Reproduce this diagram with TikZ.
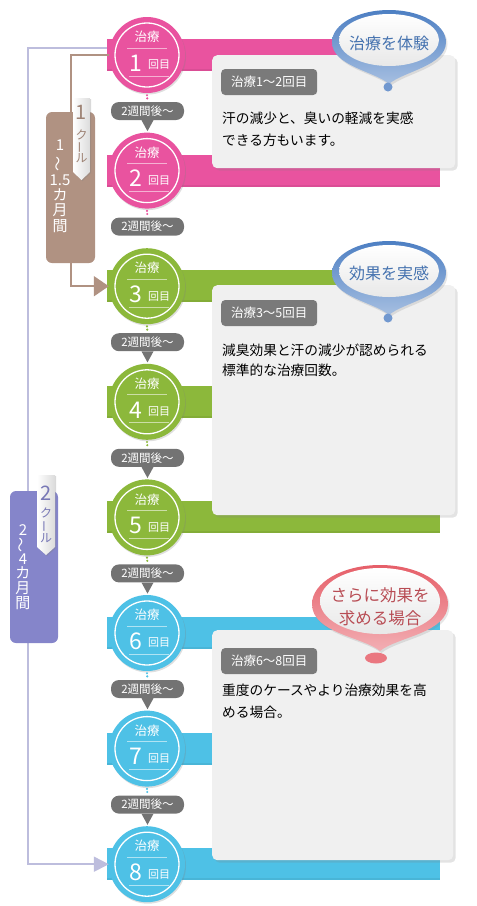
\documentclass[tikz,border=0pt]{standalone}
\usepackage{fontspec}
\setmainfont{Noto Sans CJK JP}
\usetikzlibrary{arrows.meta,shadows}

\definecolor{pinkc}{HTML}{E9539F}
\definecolor{greenc}{HTML}{8CB83B}
\definecolor{bluec}{HTML}{4EC1E6}
\definecolor{brownc}{HTML}{B09282}
\definecolor{purplec}{HTML}{8585CA}
\definecolor{lavc}{HTML}{BDBDDD}
\definecolor{pillc}{HTML}{737373}
\definecolor{cardc}{HTML}{F0F0F0}
\definecolor{pinblue}{HTML}{4D7FC3}
\definecolor{pinred}{HTML}{E65F69}

\newcommand\fs[1]{\fontsize{#1}{#1}\selectfont}

\begin{document}
\begin{tikzpicture}
[
	x=1pt,y=-1pt,
	circ/.style={circle,inner sep=0pt,minimum size=76pt,
		drop shadow={opacity=0.25,shadow xshift=1pt,shadow yshift=-1.5pt}},
	pill/.style={rounded corners=8pt,fill=pillc,text=white,inner sep=0pt,
		minimum width=73pt,minimum height=18pt,font=\fs{11.5}},
	card/.style={rounded corners=5pt,fill=cardc,inner sep=0pt,anchor=north west,
		drop shadow={opacity=0.22,shadow xshift=2.5pt,shadow yshift=-2.5pt}},
	badge/.style={rounded corners=4pt,fill=pillc!95!white,text=white,inner sep=0pt,
		minimum width=96pt,minimum height=26pt,anchor=west,font=\fs{12.5}},
	body/.style={anchor=west,inner sep=0pt,font=\fs{13.7}},
	kur/.style={rounded corners=6pt,inner sep=0pt},
	vtxt/.style={text=white,inner sep=0pt,font=\fs{15}},
	tagtxt/.style={inner sep=0pt,font=\fs{12}},
	balloon/.style n args={5}{insert path={(#1,#5)
		.. controls ({#1-0.25*#3},{#5-0.3*(#5-#2)}) and ({#1-#3},{#2+0.75*#4}) .. ({#1-#3},#2)
		.. controls ({#1-#3},{#2-0.55*#4}) and ({#1-0.55*#3},{#2-#4}) .. (#1,{#2-#4})
		.. controls ({#1+0.55*#3},{#2-#4}) and ({#1+#3},{#2-0.55*#4}) .. ({#1+#3},#2)
		.. controls ({#1+#3},{#2+0.75*#4}) and ({#1+0.25*#3},{#5-0.3*(#5-#2)}) .. (#1,#5) -- cycle}},
	pinshadow/.style={drop shadow={opacity=0.2,shadow xshift=1.5pt,shadow yshift=-2pt}}
]
	\useasboundingbox (0,0) rectangle (477,906);

	% bands behind everything
	\foreach \i/\col in {1/pinkc,2/pinkc,3/greenc,4/greenc,5/greenc,6/bluec,7/bluec,8/bluec}{
		\pgfmathsetmacro\cy{55+115.6*(\i-1)}
		\fill[\col] (107,\cy-16) rectangle (440,\cy+16);
		\fill[\col!88!black,opacity=0.5] (107,\cy+14) rectangle (440,\cy+16);
	}

	% circles
	\foreach \i/\col in {1/pinkc,2/pinkc,3/greenc,4/greenc,5/greenc,6/bluec,7/bluec,8/bluec}{
		\pgfmathsetmacro\cy{55+115.6*(\i-1)}
		\node[circ,fill=\col] (c\i) at (147,\cy) {};
		\draw[white,line width=1.3pt] (c\i) circle (32);
		\draw[white,opacity=0.55,line width=0.8pt] (127,\cy-7) -- (167,\cy-7);
		\draw[white,opacity=0.55,line width=0.8pt] (129,\cy+21) -- (169,\cy+21);
		\node[white,inner sep=0pt,font=\fs{12.5}] (t\i) at (147,\cy-18) {治療};
		\node[white,inner sep=0pt,font=\fs{23}] (n\i) at (136,\cy+8) {\i};
		\node[white,inner sep=0pt,font=\fs{11}] (k\i) at (159,\cy+10) {回目};
	}

	% two-week pills
	\foreach \i/\col in {1/pinkc,2/pinkc,3/greenc,4/greenc,5/greenc,6/bluec,7/bluec}{
		\pgfmathsetmacro\cy{55+115.6*(\i-1)}
		\node[pill] (w\i) at (147.5,\cy+56) {2週間後〜};
		\draw[\col,line width=2.4pt,line cap=round,dash pattern=on 0pt off 3.2pt]
			([yshift=-2pt]c\i.south) -- ([yshift=1pt]w\i.north);
	}
	\foreach \i in {1,3,4,5,6,7}{
		\fill[pillc] ([xshift=-6pt]w\i.south) -- ([xshift=6pt]w\i.south)
			-- ([yshift=-11pt]w\i.south) -- cycle;
	}

	% cards
	\node[card,minimum width=243pt,minimum height=113pt] (card1) at (212,55) {};
	\node[card,minimum width=243pt,minimum height=230pt] (card2) at (212,285) {};
	\node[card,minimum width=241pt,minimum height=230pt] (card3) at (212,630) {};

	\node[badge] (b1) at (221,82) {治療1〜2回目};
	\node[body] (s1a) at (222,118) {汗の減少と、臭いの軽減を実感};
	\node[body] (s1b) at (222,140) {できる方もいます。};

	\node[badge] (b2) at (221,313) {治療3〜5回目};
	\node[body] (s2a) at (222,350) {減臭効果と汗の減少が認められる};
	\node[body] (s2b) at (222,370) {標準的な治療回数。};

	\node[badge] (b3) at (221,661) {治療6〜8回目};
	\node[body] (s3a) at (222,690) {重度のケースやより治療効果を高};
	\node[body] (s3b) at (222,712) {める場合。};

	% pins
	\shade[top color=pinblue,bottom color=pinblue!50!white,pinshadow,balloon={389}{42}{57}{32}{84}];
	\shade[top color=white,bottom color=black!9] (389,40) ellipse [x radius=50,y radius=26];
	\fill[pinblue!80!white] (388,87) circle (4.5);
	\node[text=pinblue!90!black,inner sep=0pt,font=\fs{16}] (p1) at (389,43) {治療を体験};

	\shade[top color=pinblue,bottom color=pinblue!50!white,pinshadow,balloon={389}{273}{57}{32}{315}];
	\shade[top color=white,bottom color=black!9] (389,271) ellipse [x radius=50,y radius=26];
	\fill[pinblue!80!white] (388,318) circle (4.5);
	\node[text=pinblue!90!black,inner sep=0pt,font=\fs{16}] (p2) at (389,273) {効果を実感};

	\shade[top color=pinred,bottom color=pinred!50!white,pinshadow,balloon={380}{604}{68}{39}{651}];
	\shade[top color=white,bottom color=black!9] (380,601) ellipse [x radius=60,y radius=33];
	\fill[pinred!85!white] (376,658) ellipse [x radius=11,y radius=5.5];
	\node[text=pinred!80!black,inner sep=0pt,font=\fs{16.5}] (p3a) at (380,595) {さらに効果を};
	\node[text=pinred!80!black,inner sep=0pt,font=\fs{16.5}] (p3b) at (380,618) {求める場合};

	% cycle brackets
	\coordinate (l1) at (107,48);
	\draw[lavc,line width=2pt,-{Triangle[length=15pt,width=15pt]}]
		(l1) -- (28,48) |- (c8.west);

	\node[kur,fill=purplec,minimum width=48pt,minimum height=152pt] (kur2) at (34,567) {};
	\node[kur,fill=brownc,minimum width=49pt,minimum height=151pt] (kur1) at (70.5,187.5) {};
	\draw[brownc,line width=2pt] (kur1.north) |- (c1.west);
	\draw[brownc,line width=2pt,-{Triangle[length=15pt,width=20pt]}]
		(kur1.south) |- (c3.west);

	% tags
	\shade[left color=white,right color=black!14,
		drop shadow={opacity=0.3,shadow xshift=1pt,shadow yshift=-1pt}]
		(73,98) -- (90,98) -- (90,172) -- (81.5,180) -- (73,172) -- cycle;
	\node[tagtxt,text=brownc!90!black,font=\fs{20}] (q1) at (81.5,112) {1};
	\node[tagtxt,text=brownc!90!black] (q2) at (81.5,135) {ク};
	\node[tagtxt,text=brownc!90!black,rotate=90] (q3) at (81.5,147) {ー};
	\node[tagtxt,text=brownc!90!black] (q4) at (81.5,158) {ル};

	\shade[left color=white,right color=black!14,
		drop shadow={opacity=0.3,shadow xshift=1pt,shadow yshift=-1pt}]
		(37,475) -- (55,475) -- (55,547) -- (46,555) -- (37,547) -- cycle;
	\node[tagtxt,text=purplec!90!black,font=\fs{20}] (r1) at (46,493) {2};
	\node[tagtxt,text=purplec!90!black] (r2) at (46,513) {ク};
	\node[tagtxt,text=purplec!90!black,rotate=90] (r3) at (46,526) {ー};
	\node[tagtxt,text=purplec!90!black] (r4) at (46,538) {ル};

	% vertical period texts
	\node[vtxt] (u1) at (60,145) {1};
	\node[vtxt,rotate=90] (u2) at (60,164) {〜};
	\node[vtxt] (u3) at (60,180) {1.5};
	\node[vtxt] (u4) at (60,195) {カ};
	\node[vtxt] (u5) at (60,210) {月};
	\node[vtxt] (u6) at (60,226) {間};

	\node[vtxt] (v1) at (23,530) {2};
	\node[vtxt,rotate=90] (v2) at (23,545) {〜};
	\node[vtxt] (v3) at (23,559) {4};
	\node[vtxt] (v4) at (23,573) {カ};
	\node[vtxt] (v5) at (23,588) {月};
	\node[vtxt] (v6) at (23,603) {間};

\end{tikzpicture}
\end{document}
